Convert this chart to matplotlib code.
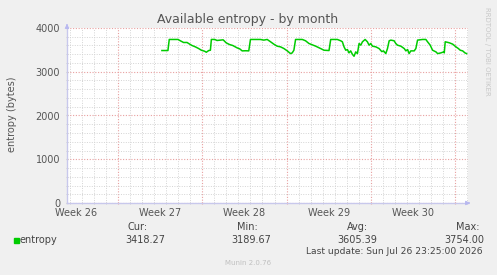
#!/usr/bin/python3
'''Munin style "Available entropy - by month" graph, redrawn with matplotlib.'''

import pandas as pd
import matplotlib
matplotlib.use('Agg')
import matplotlib.pyplot as plt
import matplotlib.dates as mdates
import matplotlib.transforms as mtrans
from matplotlib.ticker import MultipleLocator

# sample times, days after 2026-06-23 00:00
days = [8.64, 9.14, 9.25, 9.98, 10.17, 10.44, 10.73, 10.86, 11.14, 11.42,
        11.69, 11.92, 12.19, 12.33, 12.53, 12.67, 12.75, 13.03, 13.22, 13.50,
        13.73, 13.98, 14.25, 14.53, 14.89, 15.11, 15.31, 15.58, 15.86, 16.00,
        16.83, 17.11, 17.39, 17.67, 17.94, 18.22, 18.50, 18.78, 19.06, 19.33,
        19.47, 19.61, 19.75, 20.31, 20.58, 20.86, 21.00, 21.42, 21.83, 22.11,
        22.53, 22.67, 23.22, 23.50, 23.64, 23.78, 23.92, 24.06, 24.19, 24.33,
        24.47, 24.61, 24.75, 24.89, 25.03, 25.17, 25.31, 25.53, 25.72, 25.86,
        26.00, 26.14, 26.42, 26.69, 26.92, 27.06, 27.25, 27.39, 27.53, 27.67,
        27.94, 28.08, 28.22, 28.50, 28.78, 28.92, 29.06, 29.19, 29.33, 29.61,
        29.75, 29.89, 30.31, 30.58, 30.72, 30.94, 31.14, 31.42, 31.56, 31.83,
        32.06, 32.11, 32.19, 32.53, 32.81, 33.08, 33.28, 33.44, 33.64, 33.83,
        33.97]
entropy = [3485, 3485, 3738, 3738, 3708, 3669, 3669, 3646, 3600, 3569,
           3531, 3492, 3469, 3446, 3485, 3492, 3738, 3738, 3715, 3723,
           3730, 3662, 3623, 3600, 3546, 3523, 3477, 3480, 3477, 3738,
           3738, 3723, 3738, 3685, 3631, 3585, 3569, 3531, 3477, 3415,
           3431, 3492, 3738, 3738, 3708, 3646, 3631, 3585, 3531, 3492,
           3485, 3738, 3738, 3708, 3685, 3569, 3492, 3508, 3431, 3477,
           3400, 3354, 3454, 3415, 3646, 3608, 3685, 3738, 3685, 3608,
           3646, 3585, 3569, 3531, 3460, 3477, 3415, 3531, 3708, 3723,
           3708, 3646, 3608, 3585, 3531, 3477, 3508, 3415, 3477, 3477,
           3531, 3723, 3738, 3738, 3685, 3608, 3492, 3454, 3415, 3431,
           3454, 3431, 3685, 3662, 3631, 3569, 3531, 3492, 3477, 3431,
           3415]

week_labels = ['Week 26', 'Week 27', 'Week 28', 'Week 29', 'Week 30']
week_label_dates = ['2026-06-24 12:00', '2026-07-01 12:00', '2026-07-08 12:00',
                    '2026-07-15 12:00', '2026-07-22 12:00']

stat_names = ['Cur:', 'Min:', 'Avg:', 'Max:']
stat_values = ['3418.27', '3189.67', '3605.39', '3754.00']
last_update = 'Last update: Sun Jul 26 23:25:00 2026'

W, H = 497, 275
BG = '#F0F0F0'
TXT = '#555555'
LEG = '#444444'


def fx(px):
    return px / W


def fy(py):
    return 1 - py / H


times = pd.Timestamp('2026-06-23') + pd.to_timedelta(days, unit='D')

fig = plt.figure(figsize=(W / 100, H / 100), dpi=100, facecolor=BG)
ax = fig.add_axes([fx(67), fy(203), (468 - 67) / W, 175 / H])
ax.set_facecolor('white')

ax.plot(times, entropy, color='#00CC00', lw=1.1, zorder=3)

ax.set_ylim(0, 4000)
ax.set_xlim(pd.Timestamp('2026-06-23 18:00'), pd.Timestamp('2026-07-27 02:00'))

# grid: minor gray, major red-ish, both dotted
ax.yaxis.set_major_locator(MultipleLocator(1000))
ax.yaxis.set_minor_locator(MultipleLocator(200))
ax.xaxis.set_major_locator(mdates.WeekdayLocator(byweekday=mdates.SU))
ax.xaxis.set_minor_locator(mdates.DayLocator())
ax.grid(which='minor', color='#d4d4d4', ls=(0, (1, 1.5)), lw=0.7)
ax.grid(which='major', color='#e8a0a0', ls=(0, (1, 1.5)), lw=0.8)
ax.set_axisbelow(True)

ax.set_xticklabels([])
ax.tick_params(axis='x', which='both', length=2, direction='inout', colors='#e8a0a0')
ax.tick_params(axis='x', which='minor', colors='#c8c8c8')
ax.tick_params(axis='y', which='both', length=2, direction='inout', colors='#c8c8c8',
               labelcolor=TXT, labelsize=7, pad=4)
ax.set_yticks([0, 1000, 2000, 3000, 4000])
ax.set_yticklabels(['0', '1000', '2000', '3000', '4000'])

for s in ['top', 'right']:
    ax.spines[s].set_visible(False)
for s in ['left', 'bottom']:
    ax.spines[s].set_color('#c8c8ec')
    ax.spines[s].set_linewidth(1.0)

# axis arrows
ax.annotate('', xy=(fx(473), fy(203)), xytext=(fx(466), fy(203)), xycoords='figure fraction',
            arrowprops=dict(arrowstyle='-|>', color='#b8b8f0', lw=0.8, mutation_scale=6))
ax.annotate('', xy=(fx(67), fy(21)), xytext=(fx(67), fy(28)), xycoords='figure fraction',
            arrowprops=dict(arrowstyle='-|>', color='#b8b8f0', lw=0.8, mutation_scale=6))

label_tr = mtrans.blended_transform_factory(ax.transData, fig.transFigure)
for lab, d in zip(week_labels, week_label_dates):
    ax.text(pd.Timestamp(d), fy(213), lab, transform=label_tr,
            ha='center', va='center', fontsize=7, color=TXT)

fig.text(fx(248), fy(19), 'Available entropy - by month', ha='center', va='center',
         fontsize=9, color=TXT)
fig.text(fx(12), fy(114), 'entropy (bytes)', rotation=90, ha='center', va='center',
         fontsize=7, color=TXT)
fig.text(fx(487), fy(51), 'RRDTOOL / TOBI OETIKER', rotation=270, ha='center', va='center',
         fontsize=5, color='#c8c8c8')

# legend
fig.patches.append(plt.Rectangle((fx(14), fy(243)), 5 / W, 5 / H, transform=fig.transFigure,
                                 color='#00CC00'))
fig.text(fx(20), fy(240), 'entropy', ha='left', va='center', fontsize=7, color=LEG)
name_x = [127.5, 236.5, 346.5, 456]
val_x = [125, 231, 337, 444]
for n, v, nx, vx in zip(stat_names, stat_values, name_x, val_x):
    fig.text(fx(nx), fy(227), n, ha='left', va='center', fontsize=7, color=LEG)
    fig.text(fx(vx), fy(240), v, ha='left', va='center', fontsize=7, color=LEG)
fig.text(fx(482.5), fy(251), last_update, ha='right', va='center', fontsize=6.6, color=LEG)
fig.text(fx(248), fy(263), 'Munin 2.0.76', ha='center', va='center', fontsize=5, color='#c0c0c0')

fig.savefig('out.png', dpi=100, facecolor=BG)
